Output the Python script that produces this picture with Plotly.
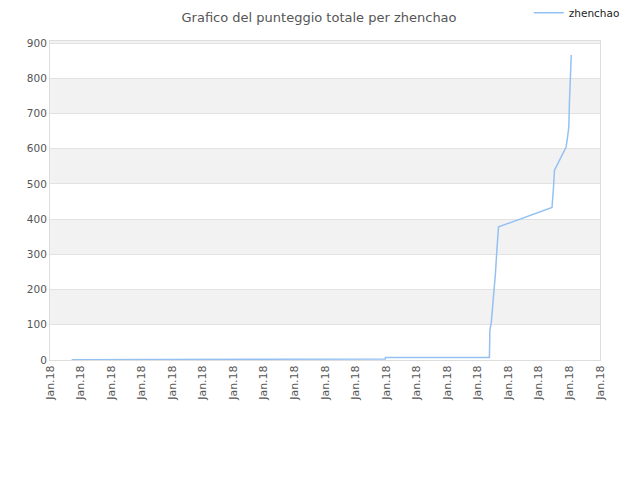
import plotly.graph_objects as go

# punteggio totale nel tempo
times = [
    '2018-01-01 17:00', '2018-01-05 03:20', '2018-01-05 03:30',
    '2018-01-11 23:20', '2018-01-11 23:30', '2018-01-15 09:07',
    '2018-01-15 09:22', '2018-01-15 09:30', '2018-01-15 10:34',
    '2018-01-15 11:17', '2018-01-15 12:00', '2018-01-15 12:58',
    '2018-01-15 13:41', '2018-01-15 14:24', '2018-01-15 15:22',
    '2018-01-15 16:19', '2018-01-17 10:19', '2018-01-17 11:31',
    '2018-01-17 12:14', '2018-01-17 13:41', '2018-01-17 21:22',
    '2018-01-17 22:34', '2018-01-17 23:31', '2018-01-18 00:00',
    '2018-01-18 00:43', '2018-01-18 01:26',
]
scores = [
    1, 1, 3,
    3, 7, 7,
    48, 85, 105,
    142, 180, 208,
    236, 293, 332,
    378, 433, 492,
    539, 549, 605,
    634, 662, 733,
    800, 866,
]
y_ticks = [0, 100, 200, 300, 400, 500, 600, 700, 800, 900]
band_starts = [100, 300, 500, 700, 900]
y_max = 906

fig = go.Figure()
fig.add_trace(go.Scatter(
    x=times,
    y=scores,
    mode='lines',
    name='zhenchao',
    line=dict(color='#94c1f2', width=1.5),
))

# alternate grey bands
for b in band_starts:
    fig.add_shape(type='rect', xref='paper', yref='y', x0=0, x1=1,
                  y0=b, y1=min(b + 100, y_max), fillcolor='#f2f2f2',
                  line_width=0, layer='below')

# page body adds an 8px offset, margins compensate for it
fig.update_layout(
    width=640, height=480,
    margin=dict(l=42, r=48, t=33, b=128, autoexpand=False),
    paper_bgcolor='white',
    plot_bgcolor='white',
    font=dict(family='DejaVu Sans', size=11, color='#555555'),
    title=dict(text='Grafico del punteggio totale per zhenchao',
               x=0.486, xanchor='center', y=0.981, yanchor='middle',
               font=dict(size=13, color='#555555')),
    legend=dict(x=1.045, y=1.134, xanchor='right', yanchor='top',
                font=dict(size=10.5, color='#222222'),
                itemwidth=30, bgcolor='rgba(0,0,0,0)'),
    showlegend=True,
    xaxis=dict(
        type='date',
        range=['2018-01-01', '2018-01-19'],
        dtick=86400000,
        tick0='2018-01-01',
        tickformat='%b.%y',
        tickangle=-90,
        tickfont=dict(size=11),
        showgrid=False, automargin=False,
        showline=True, linecolor='#dddddd', linewidth=1, mirror=True,
        ticks='', zeroline=False,
    ),
    yaxis=dict(
        range=[0, y_max],
        tickvals=y_ticks,
        tickfont=dict(size=10.5),
        showgrid=True, gridcolor='#e2e2e2', gridwidth=1, automargin=False,
        showline=True, linecolor='#dddddd', linewidth=1, mirror=True,
        ticks='', zeroline=False,
    ),
)

fig.write_html('out.html')
